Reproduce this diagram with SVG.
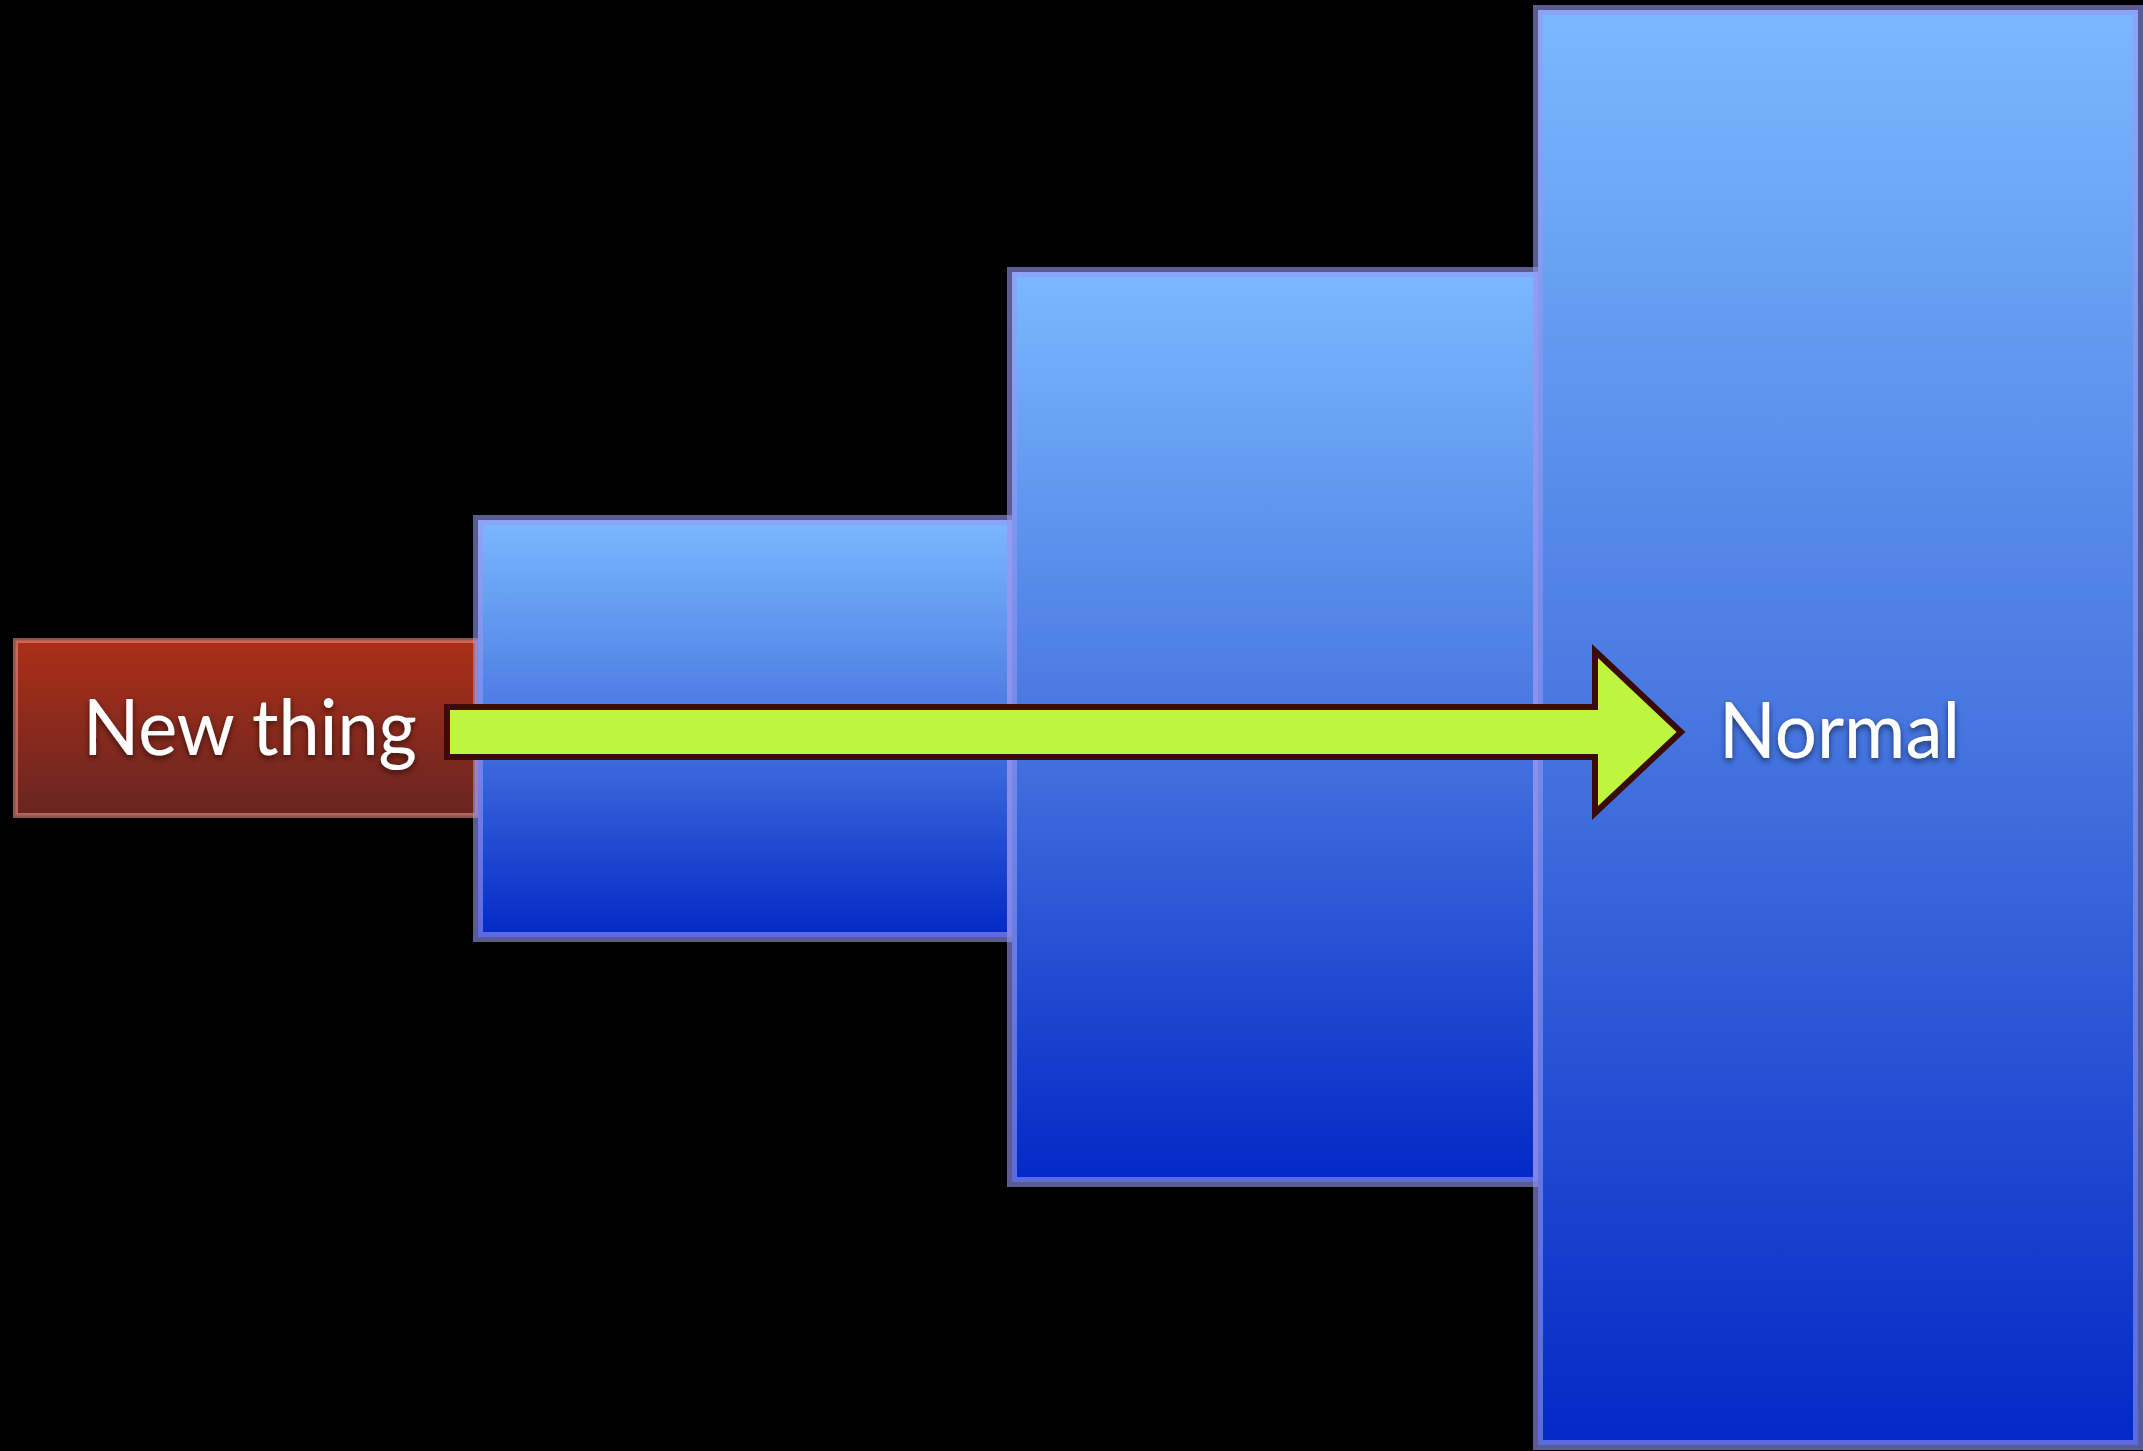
<svg xmlns="http://www.w3.org/2000/svg" width="2143" height="1451" viewBox="0 0 2143 1451">
  <defs>
    <linearGradient id="gRed" x1="0" y1="0" x2="0" y2="1">
      <stop offset="0" stop-color="#ab2f17"/>
      <stop offset="1" stop-color="#682522"/>
    </linearGradient>
    <linearGradient id="gBlue" x1="0" y1="0" x2="0" y2="1">
      <stop offset="0" stop-color="#7bb8fe"/>
      <stop offset="0.5" stop-color="#4676e0"/>
      <stop offset="1" stop-color="#0229c6"/>
    </linearGradient>
    <filter id="shadow" x="-10%" y="-30%" width="120%" height="160%">
      <feDropShadow dx="0" dy="3" stdDeviation="3" flood-color="#000" flood-opacity="0.55"/>
    </filter>
    <style>
      .red { fill: url(#gRed); stroke: rgba(235,140,130,0.6); stroke-width: 5; }
      .blue { fill: url(#gBlue); stroke: rgba(150,152,240,0.6); stroke-width: 10; }
      .label { font-family: Lato, "Open Sans", "Liberation Sans", sans-serif; font-size: 78px; fill: #ffffff; filter: url(#shadow); }
      .arrow { fill: #bdf53f; stroke: #3c0a08; stroke-width: 6; stroke-linejoin: miter; }
    </style>
  </defs>
  <rect width="2143" height="1451" fill="#000"/>
  <g id="node-new-thing">
    <rect class="red" x="15.5" y="640.5" width="462" height="175"/>
  </g>
  <g id="node-stage1">
    <rect class="blue" x="478" y="520" width="534" height="417"/>
  </g>
  <g id="node-stage2">
    <rect class="blue" x="1012" y="272" width="526" height="910"/>
  </g>
  <g id="node-normal">
    <rect class="blue" x="1538" y="10" width="600" height="1435"/>
  </g>
  <g id="connectors">
    <path class="arrow" d="M447,707 H1595 V651 L1681,732 L1595,813 V757 H447 Z"/>
  </g>
  <g id="labels">
    <text class="label" x="83" y="755" textLength="334" lengthAdjust="spacingAndGlyphs">New thing</text>
    <text class="label" x="1719" y="758" textLength="241" lengthAdjust="spacingAndGlyphs">Normal</text>
  </g>
</svg>
